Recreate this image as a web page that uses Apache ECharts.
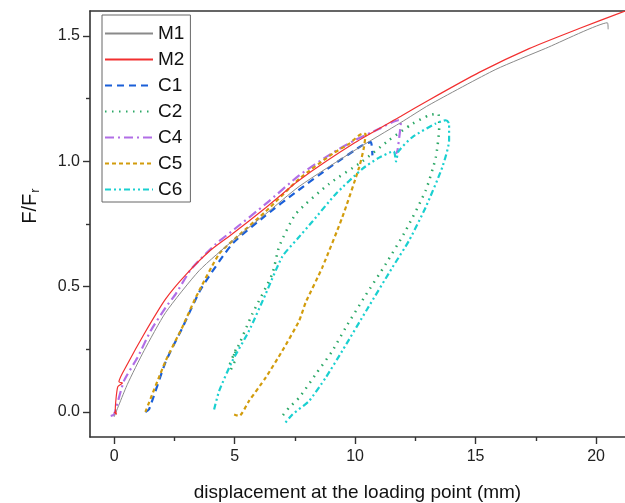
<!DOCTYPE html>
<html>
<head>
<meta charset="utf-8">
<script src="https://cdn.jsdelivr.net/npm/echarts@6/dist/echarts.min.js"></script>
<style>html,body{margin:0;padding:0;background:#fff}#c{width:625px;height:503px}</style>
</head>
<body>
<div id="c"></div>
<script>
// ---- data (x = displacement mm, y = F/Fr) ----
const M1 = [[0,-0.02],[0.55,0.11],[1.24,0.244],[2.14,0.397],[3.53,0.564],[5,0.69],[6.29,0.79],[7.68,0.9],[10,1.045],[11.9,1.155],[13.07,1.225],[15.84,1.367],[17.91,1.451],[20.47,1.553],[20.5,1.527]];
const M2 = [[0,0],[0.1,-0.01],[0.05,0.01],[0.15,0.1],[0.35,0.115],[0.2,0.12],[0.55,0.19],[1.24,0.31],[2.14,0.451],[3,0.55],[4,0.645],[4.9,0.71],[6.29,0.815],[7.68,0.925],[10,1.075],[11.9,1.18],[13.07,1.245],[15.15,1.355],[17.22,1.45],[19.3,1.53],[21.2,1.6]];
const C1 = [[1.3,0],[1.45,0.01],[2.14,0.2],[2.84,0.337],[3.6,0.49],[4.91,0.671],[6.29,0.784],[7.54,0.877],[9,0.98],[10.3,1.064],[10.65,1.077],[10.72,1.024]];
const C2 = [[4.85,0.17],[5.0,0.2],[4.8,0.19],[5.05,0.25],[4.95,0.22],[5.19,0.27],[5.73,0.39],[6.56,0.55],[6.85,0.66],[7.54,0.79],[8.92,0.91],[10.3,1.0],[11.4,1.084],[12.38,1.15],[13.07,1.184],[13.45,1.19],[13.49,1.137],[13.35,1.017],[12.93,0.884],[12.1,0.724],[11.27,0.59],[10.4,0.46],[9.61,0.337],[9.06,0.244],[8.37,0.151],[7.68,0.057],[7.26,0.017],[6.98,-0.016]];
const C4 = [[-0.14,-0.016],[0,-0.01],[0.41,0.124],[0.97,0.217],[1.52,0.324],[2.14,0.417],[2.56,0.471],[3.2,0.57],[4.22,0.67],[5,0.73],[6.29,0.83],[7.68,0.944],[9,1.03],[10,1.085],[11,1.13],[11.8,1.164],[11.9,1.16],[11.85,1.11],[11.76,1.044],[11.7,1.03]];
const C5 = [[1.3,0],[2.14,0.204],[2.84,0.34],[3.39,0.457],[4.36,0.631],[5,0.69],[6.29,0.8],[7.68,0.93],[9.06,1.03],[9.75,1.07],[10.3,1.11],[10.44,1.11],[10.37,1.057],[10.17,0.977],[9.47,0.777],[8.64,0.577],[7.95,0.437],[7.68,0.364],[6.98,0.244],[6.29,0.137],[5.6,0.044],[5.19,-0.016],[4.98,-0.01]];
const C6 = [[4.15,0.01],[4.36,0.084],[4.91,0.204],[5.6,0.324],[6.29,0.471],[6.98,0.62],[7.6,0.69],[8.23,0.76],[9.2,0.87],[10.3,0.97],[11,1.015],[11.6,1.04],[11.7,1.0],[11.8,1.04],[12.38,1.097],[13.35,1.151],[13.76,1.164],[13.9,1.151],[13.9,1.084],[13.62,0.977],[12.93,0.817],[12.24,0.684],[11.55,0.577],[10.5,0.41],[9.47,0.244],[8.78,0.137],[8.09,0.044],[7.4,-0.01],[7.05,-0.05]];
const names = ['M1','M2','C1','C2','C4','C5','C6'];
const xMajor = [0,5,10,15,20];
const xMinor = [2.5,7.5,12.5,17.5];
const yMajor = [0,0.5,1.0,1.5];
const yMinor = [0.25,0.75,1.25];

const styles = {
  M1:{color:'#8a8a8a',width:1,type:'solid'},
  M2:{color:'#f23030',width:1.2,type:'solid'},
  C1:{color:'#1a5fd8',width:2.2,type:[7,5]},
  C2:{color:'#2ca866',width:2.5,type:[1.5,5.5]},
  C4:{color:'#b16ee6',width:2.2,type:[9,4,2,4]},
  C5:{color:'#d29c0c',width:2.2,type:[4,3]},
  C6:{color:'#1ad0d0',width:2.2,type:[6,3,2,3,2,3]}
};
const dataMap = {M1,M2,C1,C2,C4,C5,C6};
const FONT = 'Arial, "Liberation Sans", sans-serif';
const axisCol = '#333';

const chart = echarts.init(document.getElementById('c'), null, {renderer:'canvas'});
chart.setOption({
  animation:false,
  backgroundColor:'#fff',
  grid:{left:90, top:11, right:0, bottom:66, show:false, containLabel:false, outerBoundsMode:'none'},
  legend:{
    orient:'vertical', left:102, top:15,
    data:names,
    borderColor:'#666', borderWidth:1,
    padding:[9,6,3,2],
    itemWidth:48, itemHeight:16, itemGap:7,
    itemStyle:{opacity:0},
    textStyle:{fontFamily:FONT, fontSize:19, color:'#111'}
  },
  xAxis:[
    {type:'value', min:-1, max:21.2, position:'bottom',
     name:'displacement at the loading point (mm)', nameLocation:'middle', nameGap:46,
     nameTextStyle:{fontFamily:FONT, fontSize:19, color:'#111'},
     axisLine:{show:true, onZero:false, lineStyle:{color:axisCol, width:1.6}},
     axisTick:{show:true, customValues:xMajor, length:7, lineStyle:{color:axisCol, width:1.4}},
     axisLabel:{show:true, customValues:xMajor, fontFamily:FONT, fontSize:16, color:'#222', margin:12},
     splitLine:{show:false}},
    {type:'value', min:-1, max:21.2, position:'bottom',
     axisLine:{show:false, onZero:false},
     axisTick:{show:true, customValues:xMinor, length:4, lineStyle:{color:axisCol, width:1.4}},
     axisLabel:{show:false}, splitLine:{show:false}},
    {type:'value', min:-1, max:21.2, position:'top',
     axisLine:{show:true, onZero:false, lineStyle:{color:axisCol, width:1.6}},
     axisTick:{show:false}, axisLabel:{show:false}, splitLine:{show:false}}
  ],
  yAxis:[
    {type:'value', min:-0.1, max:1.6, position:'left',
     name:'{a|F/F}{b|r}', nameLocation:'middle', nameGap:48,
     nameTextStyle:{fontFamily:FONT, fontSize:20, color:'#111', padding:[0,0,0,36],
       rich:{a:{fontFamily:FONT, fontSize:20, color:'#111'}, b:{fontFamily:FONT, fontSize:13, color:'#111', verticalAlign:'bottom', padding:[10,0,0,1]}}},
     axisLine:{show:true, onZero:false, lineStyle:{color:axisCol, width:1.6}},
     axisTick:{show:true, customValues:yMajor, length:7, lineStyle:{color:axisCol, width:1.4}},
     axisLabel:{show:true, customValues:yMajor, fontFamily:FONT, fontSize:16, color:'#222', margin:10,
       formatter:v=>v.toFixed(1)},
     splitLine:{show:false}},
    {type:'value', min:-0.1, max:1.6, position:'left', offset:0,
     axisLine:{show:false, onZero:false},
     axisTick:{show:true, customValues:yMinor, length:4, lineStyle:{color:axisCol, width:1.4}},
     axisLabel:{show:false}, splitLine:{show:false}}
  ],
  series: names.map(n=>({
    name:n, type:'line', xAxisIndex:0, yAxisIndex:0,
    data:dataMap[n], showSymbol:false, symbol:'none', smooth:0.2,
    color:styles[n].color,
    lineStyle:{color:styles[n].color, width:styles[n].width, type:styles[n].type},
    z: n==='M1'||n==='M2' ? 3 : 2
  }))
});
</script>
</body>
</html>
